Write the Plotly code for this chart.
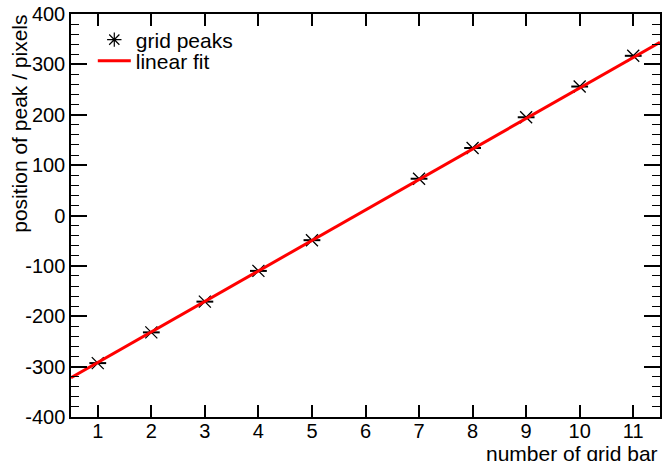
import plotly.graph_objects as go

grid_bar = [1, 2, 3, 4, 5, 7, 8, 9, 10, 11]
peak_pos = [-293, -232, -171, -110, -49, 73, 134, 195, 256, 317]
fit_x = [0.5, 11.5]
fit_y = [-322, 344]
x_ticks = [1, 2, 3, 4, 5, 6, 7, 8, 9, 10, 11]
y_ticks = [-400, -300, -200, -100, 0, 100, 200, 300, 400]
y_tick_labels = ["-400", "-300", "-200", "-100", "0", "100", "200", "300", "400"]

FONT = "Liberation Sans, Arial, sans-serif"

fig = go.Figure()
# data markers: X with a horizontal bar
fig.add_trace(go.Scatter(
    x=grid_bar, y=peak_pos, mode="markers", showlegend=False,
    marker=dict(symbol="x-thin-open", size=12, color="black",
                line=dict(color="black", width=1.3)),
    hoverinfo="x+y",
))
fig.add_trace(go.Scatter(
    x=grid_bar, y=peak_pos, mode="markers", showlegend=False,
    marker=dict(symbol="line-ew-open", size=12, color="black",
                line=dict(color="black", width=2)),
    hoverinfo="skip",
))
fig.add_trace(go.Scatter(
    x=fit_x, y=fit_y, mode="lines", name="linear fit", legend="legend2",
    line=dict(color="#ff0000", width=3),
))
# legend entry for the data points
fig.add_trace(go.Scatter(
    x=[None], y=[None], mode="markers", name="grid peaks", legend="legend",
    marker=dict(symbol="asterisk-open", size=12, color="black",
                line=dict(color="black", width=1.2)),
))

axis_common = dict(
    showgrid=False, zeroline=False, showline=True, linecolor="black",
    linewidth=1.5, mirror="allticks", ticks="inside", tickcolor="black",
    automargin=False,
    tickfont=dict(family=FONT, size=20, color="black"),
)
fig.update_xaxes(range=[0.5, 11.5], tickvals=x_ticks, ticklen=12, tickwidth=1.5,
                 ticklabelstandoff=-5, **axis_common)
fig.update_yaxes(range=[-400, 400], tickvals=y_ticks, ticktext=y_tick_labels,
                 ticklen=16, tickwidth=1.5,
                 minor=dict(dtick=20, ticks="inside", ticklen=8, tickcolor="black",
                            tickwidth=1.2, showgrid=False),
                 **axis_common)

leg_common = dict(xanchor="left", yanchor="middle", bgcolor="rgba(0,0,0,0)",
                  font=dict(family=FONT, size=21, color="black"), itemwidth=33)
fig.update_layout(
    width=663, height=461,
    margin=dict(l=71, r=3, t=14, b=44),
    paper_bgcolor="white", plot_bgcolor="white",
    font=dict(family=FONT, size=20, color="black"),
    showlegend=True,
    legend=dict(x=0.037, y=0.9355, **leg_common),
    legend2=dict(x=0.037, y=0.883, **leg_common),
    annotations=[
        dict(text="position of peak / pixels", textangle=-90, xref="paper",
             yref="paper", x=-0.0866, y=1.003, xanchor="center", yanchor="top",
             showarrow=False, font=dict(family=FONT, size=21)),
        dict(text="number of grid bar", xref="paper", yref="paper",
             x=1.0, y=-0.091, xanchor="right", yanchor="middle",
             showarrow=False, font=dict(family=FONT, size=21)),
    ],
)

fig.write_html("out.html", config={"displayModeBar": False},
               post_script="document.body.style.margin='0';"
                           "document.body.style.overflow='hidden';")
